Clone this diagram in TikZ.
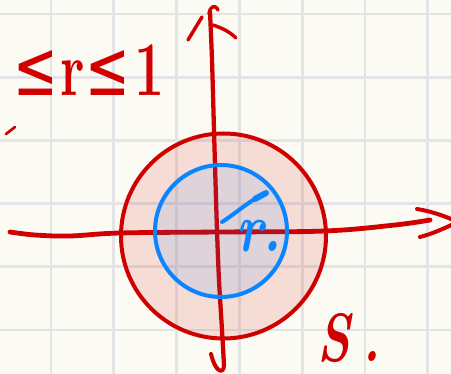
\documentclass[tikz,border=0pt]{standalone}
\usepackage{fontspec}
\newfontfamily\symf{DejaVu Sans}
\usepackage{graphicx}
\definecolor{bg}{RGB}{251,251,243}
\definecolor{gridc}{RGB}{228,228,232}
\definecolor{inkred}{RGB}{208,0,0}
\definecolor{inkblue}{RGB}{10,132,255}
\begin{document}
\begin{tikzpicture}[x=0.75pt,y=-0.75pt,
  gridline/.style={draw=gridc,line width=2.2pt},
  redink/.style={draw=inkred,line width=3pt,line cap=round,line join=round},
  blueink/.style={draw=inkblue,line width=3pt,line cap=round,line join=round},
  redtext/.style={text=inkred,inner sep=0pt},
  bluetext/.style={text=inkblue,inner sep=0pt}]
\fill[bg] (0,0) rectangle (451,374);
\useasboundingbox (0,0) rectangle (451,374);
\clip (0,0) rectangle (451,374);
% grid
\foreach \x in {51,113.8,176.6,239.4,302.2,365,427.8}
  \draw[gridline] (\x,0) -- (\x,374);
\foreach \y in {14,77.2,140.4,203.6,266.8,330}
  \draw[gridline] (0,\y) -- (451,\y);
% horizontal axis
\coordinate (xl) at (10,232);
\coordinate (xr) at (430,220);
\draw[redink,line width=3.6pt] plot[smooth,tension=0.6] coordinates
  {(xl) (35,235) (70,236) (120,233) (220,232) (325,231) (395,225) (xr)};
\draw[redink] (417,209) .. controls (430,211) and (445,216) .. (458,222);
\draw[redink] (420,237) .. controls (432,234) and (445,228) .. (458,222);
% vertical axis
\coordinate (yt) at (210,12);
\coordinate (yb) at (224,365);
\draw[redink,line width=3.2pt] plot[smooth,tension=0.6] coordinates
  {(yt) (212,60) (214,130) (215,165) (217,230) (219,280) (222,330) (yb)};
\draw[redink] (yb) .. controls (224,374) and (216,374) .. (211,354);
\draw[redink,line width=2.6pt] (209,14) .. controls (210,6) and (215,4) .. (218,10);
\draw[redink,line width=2.6pt] (188,40) -- (202,17);
\draw[redink,line width=2.6pt] (213,25) .. controls (222,28) and (230,32) .. (236,38);
% discs
\coordinate (O) at (223.5,236);
\coordinate (C) at (221,231);
\fill[inkred,opacity=0.12] (O) circle[radius=102.5];
\fill[inkblue,opacity=0.1] (C) circle[radius=66];
\draw[redink] (O) circle[radius=102.5];
\draw[blueink] (C) circle[radius=66];
% radius
\coordinate (rs) at (222,222);
\coordinate (re) at (266,193);
\draw[blueink] (rs) .. controls (235,214) and (250,200) .. (re);
\draw[blueink,line width=4.5pt] (255,199) -- (re);
% labels
\node[bluetext] (rl) at (259,236) {\scalebox{1}[1.3]{\fontsize{40}{40}\selectfont\bfseries\itshape r.}};
\node[redtext] (ineq) at (89,70) {\scalebox{1}[1.45]{\fontsize{40}{40}\selectfont\bfseries{\symf\mdseries ≤}\kern0.05em r{\symf\mdseries ≤}\kern0.08em 1}};
\node[redtext] (sl) at (349,338) {\scalebox{1}[1.35]{\fontsize{38}{38}\selectfont\bfseries\itshape S\kern0.25em.}};
\draw[redink,line width=2pt] (6,134) -- (15,127);
\end{tikzpicture}
\end{document}
